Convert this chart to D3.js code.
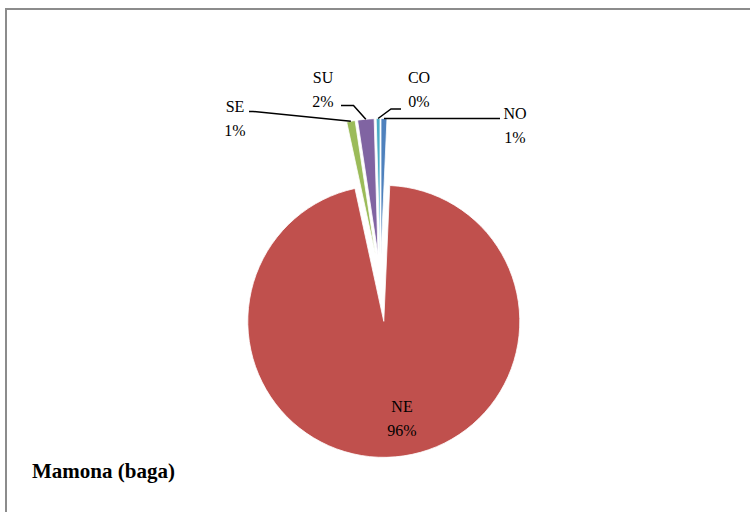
<!DOCTYPE html>
<html>
<head>
<meta charset="utf-8">
<script src="https://cdn.jsdelivr.net/npm/d3@7/dist/d3.min.js"></script>
<style>
  html, body { margin: 0; padding: 0; background: #fff; }
  svg { display: block; }
</style>
</head>
<body>
<svg id="chart" width="750" height="512"></svg>
<script>
// Production share by region (percent), in series order
const regions = ["NO", "NE", "SE", "SU", "CO"];
const shares  = [0.7, 95.9, 1.0, 1.95, 0.45];
const colors  = ["#4F81BD", "#C0504D", "#9BBB59", "#8064A2", "#4BACC6"];
const title   = "Mamona (baga)";

const svg = d3.select("#chart");

// Frame
svg.append("rect")
  .attr("x", 6).attr("y", 9)
  .attr("width", 760).attr("height", 520)
  .attr("fill", "none")
  .attr("stroke", "#8c8c8c")
  .attr("stroke-width", 2);

const radius = 136;
const center = [380.4, 281.5];
// Distance each slice is pulled away from the centre
const explode = { NE: 40, NO: 27, SE: 27, SU: 27, CO: 27 };

const data = regions.map((r, i) => ({ region: r, value: shares[i], color: colors[i] }));

const pie = d3.pie().sort(null).value(d => d.value).startAngle(0).endAngle(2 * Math.PI);
const arc = d3.arc().innerRadius(0).outerRadius(radius);
const arcs = pie(data);

const g = svg.append("g").attr("transform", `translate(${center[0]},${center[1]})`);

function offset(a) {
  const mid = (a.startAngle + a.endAngle) / 2;
  const e = explode[a.data.region];
  return [e * Math.sin(mid), -e * Math.cos(mid)];
}

g.selectAll("path.slice")
  .data(arcs)
  .join("path")
  .attr("class", "slice")
  .attr("d", arc)
  .attr("transform", d => { const o = offset(d); return `translate(${o[0]},${o[1]})`; })
  .attr("fill", d => d.data.color)
  .attr("stroke", "#fff")
  .attr("stroke-width", 0.8);

// Point on the outer rim at the middle of a slice, in page coordinates
function rimPoint(a) {
  const mid = (a.startAngle + a.endAngle) / 2;
  const o = offset(a);
  return [center[0] + o[0] + radius * Math.sin(mid), center[1] + o[1] - radius * Math.cos(mid)];
}

const pct = v => Math.round(v) + "%";

// Label placement: text centre x, first baseline y, leader start and elbow
const labelLayout = {
  NO: { x: 515, y: 119, leader: [[500, 118.5], [500, 118.5]] },
  CO: { x: 419, y: 83,  leader: [[401, 109], [391, 109]] },
  SU: { x: 323, y: 83,  leader: [[341, 105.5], [353.5, 105.5]] },
  SE: { x: 235, y: 112, leader: [[249, 111.5], [253, 111.5]] },
  NE: { x: 402, y: 412, leader: null }
};

const lineGap = 23.5;

arcs.forEach(a => {
  const lay = labelLayout[a.data.region];
  if (lay.leader) {
    const p = rimPoint(a);
    const pts = [lay.leader[0], lay.leader[1], p];
    svg.append("path")
      .attr("d", d3.line()(pts))
      .attr("fill", "none")
      .attr("stroke", "#000")
      .attr("stroke-width", 1.5);
  }
  const t = svg.append("text")
    .attr("x", lay.x).attr("y", lay.y)
    .attr("text-anchor", "middle")
    .attr("font-family", "'Liberation Serif', 'DejaVu Serif', serif")
    .attr("font-size", 16)
    .attr("fill", "#000");
  t.append("tspan").attr("x", lay.x).text(a.data.region);
  t.append("tspan").attr("x", lay.x).attr("dy", lineGap).text(pct(a.data.value));
});

// Chart title
svg.append("text")
  .attr("x", 32).attr("y", 478)
  .attr("font-family", "'Liberation Serif', 'DejaVu Serif', serif")
  .attr("font-weight", "bold")
  .attr("font-size", 21)
  .attr("fill", "#000")
  .text(title);
</script>
</body>
</html>
